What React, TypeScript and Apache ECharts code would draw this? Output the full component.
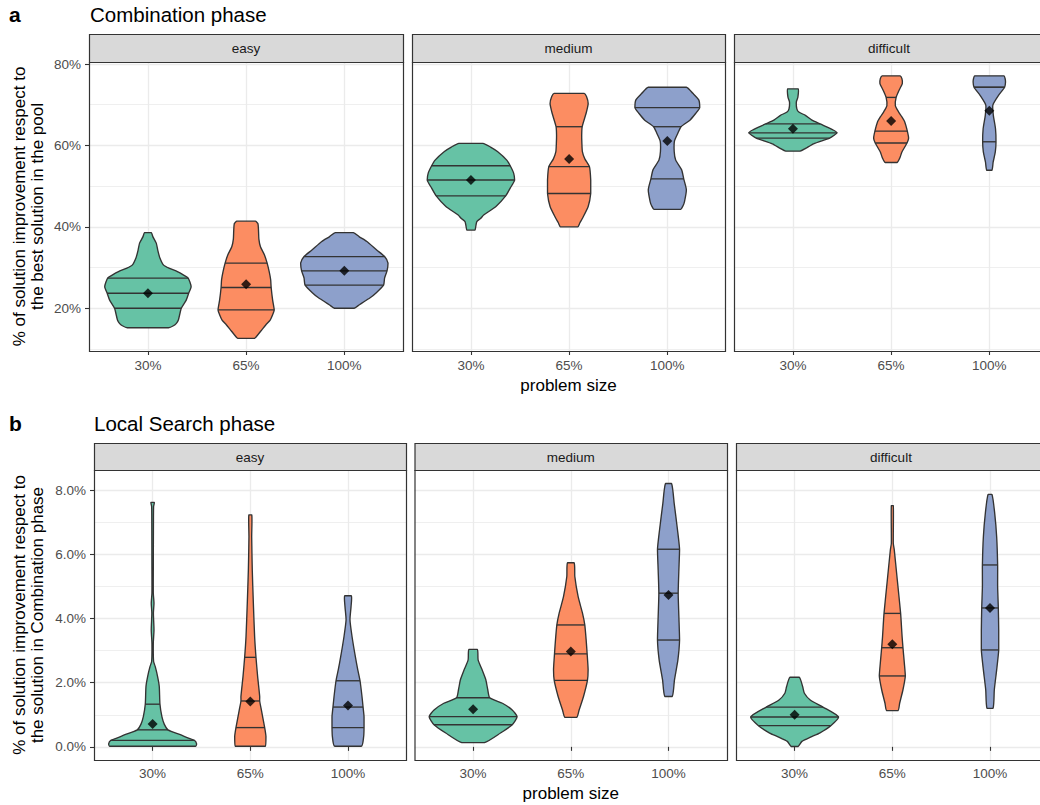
import React, { useEffect, useRef } from "react";
import * as echarts from "echarts";

// ---------- categories ----------
const sizes = ["30%", "65%", "100%"];
const levels = ["easy", "medium", "difficult"];
const fillColors = ["#66C2A5", "#FC8D62", "#8DA0CB"];

// ---------- tick labels ----------
const combTicks = [20, 40, 60, 80];
const combMinor = [10, 30, 50, 70];
const lsTicks = [0, 2, 4, 6, 8];
const lsMinor = [1, 3, 5, 7];

// ---------- violin outlines: [value %, half-width in category units] ----------
// Combination phase
const combEasy30 = [[15.2,0.21],[15.7,0.26],[16.3,0.29],[17.1,0.31],[20.0,0.34],[22.0,0.39],[23.7,0.415],[25.3,0.44],[27.4,0.41],[28.2,0.36],[29.0,0.30],[29.8,0.22],[30.6,0.16],[32.5,0.12],[34.3,0.10],[36.0,0.085],[37.6,0.05],[38.6,0.034]];
const combEasy65 = [[12.6,0.085],[13.5,0.12],[14.7,0.16],[15.9,0.2],[17.1,0.245],[18.4,0.27],[19.6,0.286],[22.0,0.27],[25.1,0.255],[27.0,0.25],[29.0,0.235],[31.1,0.214],[33.1,0.187],[35.1,0.146],[37.0,0.13],[39.2,0.126],[40.8,0.12],[41.4,0.094]];
const combEasy100 = [[20.0,0.10],[20.8,0.15],[21.6,0.20],[22.7,0.27],[23.7,0.32],[25.7,0.40],[27.4,0.41],[29.2,0.435],[31.1,0.445],[32.7,0.41],[34.3,0.33],[36.4,0.23],[37.6,0.15],[38.6,0.092]];
const combMedium30 = [[39.2,0.04],[40.2,0.05],[41.3,0.06],[42.1,0.10],[42.9,0.13],[45.0,0.255],[47.6,0.354],[49.5,0.40],[51.5,0.445],[53.2,0.435],[55.0,0.40],[56.4,0.365],[58.5,0.27],[59.6,0.2],[60.5,0.122]];
const combMedium65 = [[40.0,0.088],[41.0,0.11],[42.1,0.136],[45.0,0.194],[48.2,0.22],[51.5,0.22],[54.8,0.207],[56.7,0.16],[58.5,0.135],[60.5,0.13],[62.5,0.128],[64.6,0.133],[67.9,0.173],[70.3,0.194],[72.0,0.177],[72.8,0.153]];
const combMedium100 = [[44.3,0.136],[45.2,0.16],[46.2,0.175],[49.1,0.194],[51.8,0.167],[54.0,0.146],[56.4,0.085],[58.5,0.07],[61.1,0.073],[63.0,0.107],[64.6,0.14],[66.2,0.23],[67.9,0.29],[69.3,0.33],[71.2,0.32],[72.8,0.26],[74.3,0.194]];
const combDifficult30 = [[58.6,0.073],[59.3,0.13],[60.4,0.21],[61.8,0.374],[62.5,0.42],[63.1,0.45],[63.8,0.41],[65.3,0.277],[66.3,0.19],[67.4,0.127],[68.2,0.06],[69.0,0.04],[70.7,0.035],[71.8,0.05],[73.9,0.053]];
const combDifficult65 = [[55.8,0.06],[57.0,0.09],[58.4,0.11],[60.6,0.162],[61.8,0.178],[63.5,0.165],[65.8,0.138],[67.0,0.11],[68.2,0.077],[69.8,0.043],[71.8,0.051],[73.5,0.08],[75.2,0.114],[76.4,0.11],[77.1,0.092]];
const combDifficult100 = [[53.9,0.026],[55.9,0.039],[58.4,0.061],[60.9,0.068],[64.1,0.063],[67.4,0.041],[69.9,0.036],[72.3,0.094],[74.3,0.156],[75.6,0.165],[76.5,0.16],[77.1,0.15]];

// Local Search phase
const lsEasy30 = [[0.02,0.44],[0.09,0.45],[0.20,0.43],[0.28,0.36],[0.37,0.29],[0.53,0.157],[0.70,0.12],[0.94,0.095],[1.33,0.075],[1.88,0.068],[2.19,0.051],[2.50,0.027],[2.66,0.01],[3.23,0.007],[3.64,0.014],[4.17,0.008],[4.48,0.014],[4.79,0.007],[5.51,0.007],[7.07,0.0085],[7.49,0.01],[7.62,0.017]];
const lsEasy65 = [[0.02,0.154],[0.32,0.16],[0.60,0.147],[1.15,0.113],[1.43,0.096],[1.57,0.096],[2.19,0.075],[2.79,0.058],[3.44,0.044],[4.48,0.031],[5.51,0.02],[6.55,0.014],[7.23,0.015]];
const lsEasy100 = [[0.02,0.137],[0.32,0.16],[0.60,0.164],[0.94,0.164],[1.24,0.154],[1.57,0.143],[2.06,0.123],[2.40,0.10],[2.81,0.075],[3.44,0.041],[3.96,0.02],[4.37,0.031],[4.71,0.034]];
const lsMedium30 = [[0.13,0.116],[0.43,0.28],[0.69,0.40],[0.94,0.45],[1.15,0.40],[1.36,0.30],[1.53,0.17],[1.78,0.15],[2.09,0.13],[2.40,0.092],[2.71,0.051],[3.04,0.043]];
const lsMedium65 = [[0.92,0.061],[1.15,0.085],[1.57,0.13],[2.07,0.17],[2.40,0.177],[2.90,0.167],[3.33,0.157],[3.80,0.143],[4.16,0.12],[4.68,0.075],[5.31,0.041],[5.74,0.034]];
const lsMedium100 = [[1.57,0.038],[2.09,0.061],[2.71,0.096],[3.33,0.113],[4.06,0.106],[4.79,0.099],[5.51,0.106],[6.16,0.113],[6.76,0.092],[7.59,0.058],[8.21,0.031]];
const lsDifficult30 = [[0.01,0.034],[0.17,0.075],[0.32,0.175],[0.43,0.256],[0.66,0.37],[0.93,0.45],[1.24,0.29],[1.46,0.16],[1.67,0.10],[1.88,0.082],[2.17,0.048]];
const lsDifficult65 = [[1.13,0.058],[1.36,0.075],[1.78,0.109],[2.21,0.133],[2.61,0.123],[3.09,0.109],[3.44,0.1],[4.16,0.085],[5.20,0.051],[6.14,0.02],[6.35,0.01],[7.52,0.01]];
const lsDifficult100 = [[1.20,0.031],[1.78,0.044],[2.40,0.068],[3.02,0.089],[3.64,0.089],[4.33,0.085],[4.99,0.078],[5.67,0.078],[6.55,0.068],[7.28,0.048],[7.87,0.02]];

// ---------- quartiles [25%, 50%, 75%] and means ----------
const combEasyQ = [[20.0,23.7,27.4],[19.6,25.1,31.1],[25.7,29.2,32.7]];
const combMediumQ = [[47.6,51.5,55.0],[48.2,54.8,64.6],[51.8,64.6,69.3]];
const combDifficultQ = [[61.8,63.1,65.3],[60.6,63.5,71.8],[60.9,74.3,74.3]];
const combEasyMean = [23.7, 25.9, 29.2];
const combMediumMean = [51.5, 56.7, 61.1];
const combDifficultMean = [64.1, 66.0, 68.5];

const lsEasyQ = [[0.20,0.53,1.33],[0.60,1.43,2.79],[0.60,1.24,2.06]];
const lsMediumQ = [[0.69,0.94,1.53],[2.07,2.90,3.80],[3.33,4.79,6.16]];
const lsDifficultQ = [[0.66,0.93,1.24],[2.21,3.09,4.16],[3.02,4.33,5.67]];
const lsEasyMean = [0.71, 1.41, 1.29];
const lsMediumMean = [1.17, 2.97, 4.73];
const lsDifficultMean = [1.00, 3.20, 4.33];

// ---------- assembly ----------
const FONT = "Liberation Sans, Arial, Helvetica, sans-serif";
const OUTLINE = "#333333";
const LW = 1.35;

const rows = [
  {
    letter: "a", title: "Combination phase", titleX: 90, titleY: 14.7,
    ytitle: ["% of solution improvement respect to", "the best solution in the pool"],
    top: 62, height: 289, stripTop: 34, yMin: 9.5, yMax: 80.5,
    majors: combTicks, minors: combMinor, fmt: (v: number) => `${v}%`,
    lefts: [89, 412, 734], widths: [314, 313, 310], spacing: 98.2, xLabelMargin: 7, nameY: 385,
    panels: [
      { profiles: [combEasy30, combEasy65, combEasy100], q: combEasyQ, mean: combEasyMean },
      { profiles: [combMedium30, combMedium65, combMedium100], q: combMediumQ, mean: combMediumMean },
      { profiles: [combDifficult30, combDifficult65, combDifficult100], q: combDifficultQ, mean: combDifficultMean },
    ],
  },
  {
    letter: "b", title: "Local Search phase", titleX: 94, titleY: 423,
    ytitle: ["% of solution improvement respect to", "the solution in Combination phase"],
    top: 470, height: 290, stripTop: 443, yMin: -0.41, yMax: 8.63,
    majors: lsTicks, minors: lsMinor, fmt: (v: number) => `${v.toFixed(1)}%`,
    lefts: [94, 414.5, 736], widths: [312, 312.5, 310], spacing: 97.7, xLabelMargin: 6, nameY: 793,
    panels: [
      { profiles: [lsEasy30, lsEasy65, lsEasy100], q: lsEasyQ, mean: lsEasyMean },
      { profiles: [lsMedium30, lsMedium65, lsMedium100], q: lsMediumQ, mean: lsMediumMean },
      { profiles: [lsDifficult30, lsDifficult65, lsDifficult100], q: lsDifficultQ, mean: lsDifficultMean },
    ],
  },
];

function widthAt(prof: number[][], v: number) {
  if (v <= prof[0][0]) return prof[0][1];
  for (let j = 1; j < prof.length; j++) {
    if (v <= prof[j][0]) {
      const [v0, w0] = prof[j - 1];
      const [v1, w1] = prof[j];
      return w0 + ((v - v0) / (v1 - v0)) * (w1 - w0);
    }
  }
  return prof[prof.length - 1][1];
}

function buildOption() {
  const grid: any[] = [];
  const xAxis: any[] = [];
  const yAxis: any[] = [];
  const series: any[] = [];
  const graphic: any[] = [];

  rows.forEach((row) => {
    graphic.push({ type: "text", x: 9, y: row.titleY, z: 100,
      style: { text: row.letter, fontSize: 21, fontWeight: "bold", fontFamily: FONT, fill: "#000", verticalAlign: "middle" } });
    graphic.push({ type: "text", x: row.titleX, y: row.titleY, z: 100,
      style: { text: row.title, fontSize: 20.5, fontFamily: FONT, fill: "#000", verticalAlign: "middle" } });
    const cy = row.top + row.height / 2;
    row.ytitle.forEach((t, li) => {
      graphic.push({ type: "text", x: 19 + li * 18, y: cy, rotation: Math.PI / 2, z: 100,
        style: { text: t, fontSize: 17, fontFamily: FONT, fill: "#000", align: "center", verticalAlign: "middle" } });
    });
    graphic.push({ type: "text", x: row.lefts[1] + row.widths[1] / 2, y: row.nameY, z: 100,
      style: { text: "problem size", fontSize: 17, fontFamily: FONT, fill: "#000", align: "center", verticalAlign: "middle" } });

    row.panels.forEach((panel, c) => {
      const gi = grid.length;
      const left = row.lefts[c];
      const width = row.widths[c];
      const xMax = 0.4 + width / row.spacing;
      grid.push({ left, top: row.top, width, height: row.height, show: false, outerBoundsMode: "none", containLabel: false });

      graphic.push({ type: "rect", z: 100,
        shape: { x: left + 0.5, y: row.stripTop + 0.5, width, height: row.top - row.stripTop },
        style: { fill: "#D9D9D9", stroke: OUTLINE, lineWidth: 1.2 } });
      graphic.push({ type: "text", z: 101, x: left + width / 2, y: (row.stripTop + row.top) / 2 + 0.5,
        style: { text: levels[c], fontSize: 13.5, fontFamily: FONT, fill: "#1A1A1A", align: "center", verticalAlign: "middle" } });
      graphic.push({ type: "rect", z: 100,
        shape: { x: left + 0.5, y: row.top + 0.5, width, height: row.height },
        style: { fill: "none", stroke: OUTLINE, lineWidth: 1.2 } });

      xAxis.push({
        gridIndex: gi, type: "value", min: 0.4, max: xMax,
        axisLine: { show: false },
        axisTick: { show: true, customValues: [1, 2, 3], length: 4, lineStyle: { color: OUTLINE, width: 1.1 } },
        axisLabel: { show: true, customValues: [1, 2, 3], margin: row.xLabelMargin,
          formatter: (v: number) => sizes[Math.round(v) - 1] || "",
          color: "#4D4D4D", fontSize: 13.5, fontFamily: FONT },
        splitLine: { show: true, lineStyle: { color: "#EBEBEB", width: 1.3 } },
      });
      const yMajor = yAxis.length;
      yAxis.push({
        gridIndex: gi, type: "value", min: row.yMin, max: row.yMax, position: "left",
        axisLine: { show: false },
        axisTick: { show: c === 0, customValues: row.majors, length: 4, lineStyle: { color: OUTLINE, width: 1.1 } },
        axisLabel: { show: c === 0, customValues: row.majors, margin: 8, formatter: row.fmt,
          color: "#4D4D4D", fontSize: 13.5, fontFamily: FONT },
        splitLine: { show: true, lineStyle: { color: "#EBEBEB", width: 1.3 } },
      });
      yAxis.push({
        gridIndex: gi, type: "value", min: row.yMin, max: row.yMax, position: "left",
        axisLine: { show: false },
        axisTick: { show: false, customValues: row.minors },
        axisLabel: { show: false, customValues: row.minors },
        splitLine: { show: true, lineStyle: { color: "#EDEDED", width: 0.9 } },
      });

      const data = panel.mean.map((m, k) => [k + 1, m]);
      series.push({
        type: "custom", xAxisIndex: gi, yAxisIndex: yMajor, z: 5, clip: false,
        data,
        renderItem: (params: any, api: any) => {
          const k = params.dataIndex;
          const prof = panel.profiles[k];
          const cx = k + 1;
          const pts: number[][] = [];
          for (const [v, w] of prof) pts.push(api.coord([cx + w, v]));
          for (let j = prof.length - 1; j >= 0; j--) pts.push(api.coord([cx - prof[j][1], prof[j][0]]));
          let mnx = Infinity, mny = Infinity, mxx = -Infinity, mxy = -Infinity;
          for (const p of pts) {
            mnx = Math.min(mnx, p[0]); mny = Math.min(mny, p[1]);
            mxx = Math.max(mxx, p[0]); mxy = Math.max(mxy, p[1]);
          }
          const children: any[] = [
            { type: "polygon", shape: { points: pts, smooth: 0.2, smoothConstraint: [[mnx, mny], [mxx, mxy]] },
              style: { fill: fillColors[k], stroke: OUTLINE, lineWidth: LW, lineJoin: "round" } },
          ];
          for (const q of panel.q[k]) {
            const w = widthAt(prof, q);
            const a = api.coord([cx - w, q]);
            const b = api.coord([cx + w, q]);
            children.push({ type: "line", shape: { x1: a[0], y1: a[1], x2: b[0], y2: b[1] },
              style: { stroke: OUTLINE, lineWidth: LW } });
          }
          return { type: "group", children };
        },
      });
      series.push({
        type: "scatter", xAxisIndex: gi, yAxisIndex: yMajor, z: 6,
        symbol: "diamond", symbolSize: 10, data,
        itemStyle: { color: "#000000" },
      });
    });
  });

  return {
    animation: false,
    backgroundColor: "#FFFFFF",
    textStyle: { fontFamily: FONT },
    grid, xAxis, yAxis, series, graphic,
  };
}

export default function App() {
  const ref = useRef<HTMLDivElement>(null);
  useEffect(() => {
    if (!ref.current) return;
    const chart = echarts.init(ref.current, undefined, { renderer: "svg" });
    chart.setOption(buildOption() as any);
    return () => chart.dispose();
  }, []);
  return (
    <div
      ref={ref}
      style={{ position: "absolute", left: 0, top: 0, width: 1040, height: 805, background: "#fff" }}
    />
  );
}
